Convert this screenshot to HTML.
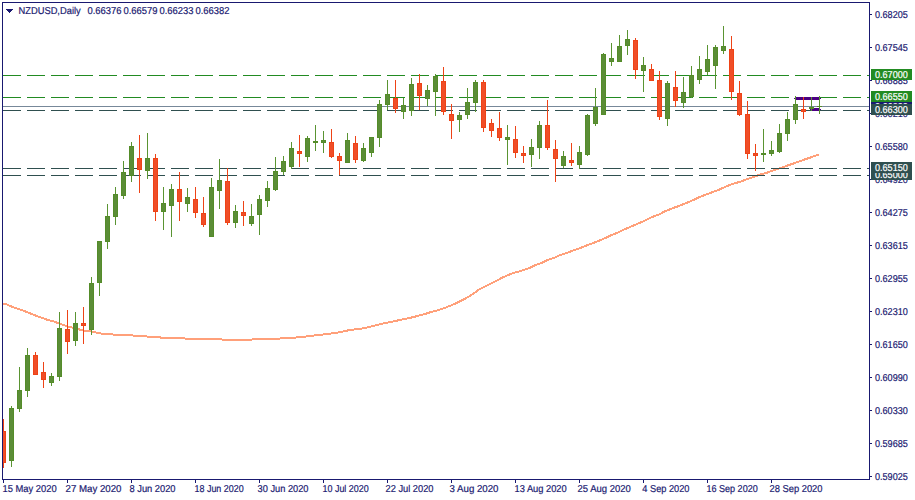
<!DOCTYPE html>
<html><head><meta charset="utf-8"><title>NZDUSD,Daily</title>
<style>
html,body{margin:0;padding:0;background:#fff;width:915px;height:500px;overflow:hidden}
svg{display:block}
.t{font-family:"Liberation Sans",sans-serif;font-size:10px;fill:#191970;stroke:#191970;stroke-width:0.2px;text-rendering:geometricPrecision}
</style></head><body>
<svg width="915" height="500" viewBox="0 0 915 500" shape-rendering="crispEdges">
<defs><clipPath id="cl"><rect x="3" y="3" width="866" height="476"/></clipPath></defs>
<g clip-path="url(#cl)">
<polyline fill="none" stroke="#ffa07a" stroke-width="2" stroke-linejoin="round" points="3,303.90 6,304.00 9,305.50 12,306.70 18,308.80 24,310.90 30,313.30 36,315.70 42,317.80 48,320.10 54,321.60 58.2,323.10 63,324.90 69,326.70 78,328.90 81,330.00 87,330.90 93,331.70 98,333.00 103.5,333.90 119.6,334.90 139.5,335.80 151.3,336.90 163.3,337.70 195.5,338.90 239.7,339.90 272,338.90 291.6,337.90 303.3,336.90 311.5,335.80 319.4,335.00 327.3,334.00 335.5,332.90 341.5,331.90 345.4,330.90 351.4,329.80 359.3,328.90 365.3,327.90 369.4,326.90 373.5,325.90 377.6,324.90 381.4,323.80 390.9,321.90 401.9,319.60 412.8,317.20 423.7,314.40 430,312.30 436,310.80 442,309.00 448,306.60 454,304.20 460,301.20 466,298.20 472,294.60 478,290.20 484,286.90 490,284.10 496,281.10 502,277.70 508,275.10 514,272.80 520,271.30 524,269.90 530,267.80 536,264.80 542,262.70 548,259.90 554,257.90 560,255.10 566,253.30 572,251.00 576,249.50 582,247.30 588,244.80 594,242.70 600,240.30 606,237.70 612,234.90 618,232.50 623.2,229.90 630.4,226.80 637.6,223.80 644.8,220.70 652,217.10 659.2,214.40 664,211.70 671.2,208.80 678.4,206.10 685.6,203.40 692.8,200.30 700,196.90 707.2,194.00 712,192.40 719.2,189.60 726.4,186.30 733.6,183.60 740.8,181.60 748,178.80 755.2,176.40 760,174.60 767.2,172.60 774.4,170.10 781.6,167.60 788.8,165.10 796,162.60 803.2,160.00 810.4,157.50 817.6,155.00 819,154.60"/>
<path d="M3 75.5H21M27 75.5H45M51 75.5H69M75 75.5H93M99 75.5H117M123 75.5H141M147 75.5H165M171 75.5H189M195 75.5H213M219 75.5H237M243 75.5H261M267 75.5H285M291 75.5H309M315 75.5H333M339 75.5H357M363 75.5H381M387 75.5H405M411 75.5H429M435 75.5H453M459 75.5H477M483 75.5H501M507 75.5H525M531 75.5H549M555 75.5H573M579 75.5H597M603 75.5H621M627 75.5H645M651 75.5H669M675 75.5H693M699 75.5H717M723 75.5H741M747 75.5H765M771 75.5H789M795 75.5H813M819 75.5H837M843 75.5H861M867 75.5H869" stroke="#228b22" stroke-width="1" fill="none"/>
<path d="M3 97.5H21M27 97.5H45M51 97.5H69M75 97.5H93M99 97.5H117M123 97.5H141M147 97.5H165M171 97.5H189M195 97.5H213M219 97.5H237M243 97.5H261M267 97.5H285M291 97.5H309M315 97.5H333M339 97.5H357M363 97.5H381M387 97.5H405M411 97.5H429M435 97.5H453M459 97.5H477M483 97.5H501M507 97.5H525M531 97.5H549M555 97.5H573M579 97.5H597M603 97.5H621M627 97.5H645M651 97.5H669M675 97.5H693M699 97.5H717M723 97.5H741M747 97.5H765M771 97.5H789M795 97.5H813M819 97.5H837M843 97.5H861M867 97.5H869" stroke="#228b22" stroke-width="1" fill="none"/>
<path d="M3 110.5H21M27 110.5H45M51 110.5H69M75 110.5H93M99 110.5H117M123 110.5H141M147 110.5H165M171 110.5H189M195 110.5H213M219 110.5H237M243 110.5H261M267 110.5H285M291 110.5H309M315 110.5H333M339 110.5H357M363 110.5H381M387 110.5H405M411 110.5H429M435 110.5H453M459 110.5H477M483 110.5H501M507 110.5H525M531 110.5H549M555 110.5H573M579 110.5H597M603 110.5H621M627 110.5H645M651 110.5H669M675 110.5H693M699 110.5H717M723 110.5H741M747 110.5H765M771 110.5H789M795 110.5H813M819 110.5H837M843 110.5H861M867 110.5H869" stroke="#2f4f4f" stroke-width="1" fill="none"/>
<path d="M3 168.5H21M27 168.5H45M51 168.5H69M75 168.5H93M99 168.5H117M123 168.5H141M147 168.5H165M171 168.5H189M195 168.5H213M219 168.5H237M243 168.5H261M267 168.5H285M291 168.5H309M315 168.5H333M339 168.5H357M363 168.5H381M387 168.5H405M411 168.5H429M435 168.5H453M459 168.5H477M483 168.5H501M507 168.5H525M531 168.5H549M555 168.5H573M579 168.5H597M603 168.5H621M627 168.5H645M651 168.5H669M675 168.5H693M699 168.5H717M723 168.5H741M747 168.5H765M771 168.5H789M795 168.5H813M819 168.5H837M843 168.5H861M867 168.5H869" stroke="#2f4f4f" stroke-width="1" fill="none"/>
<path d="M3 175.5H21M27 175.5H45M51 175.5H69M75 175.5H93M99 175.5H117M123 175.5H141M147 175.5H165M171 175.5H189M195 175.5H213M219 175.5H237M243 175.5H261M267 175.5H285M291 175.5H309M315 175.5H333M339 175.5H357M363 175.5H381M387 175.5H405M411 175.5H429M435 175.5H453M459 175.5H477M483 175.5H501M507 175.5H525M531 175.5H549M555 175.5H573M579 175.5H597M603 175.5H621M627 175.5H645M651 175.5H669M675 175.5H693M699 175.5H717M723 175.5H741M747 175.5H765M771 175.5H789M795 175.5H813M819 175.5H837M843 175.5H861M867 175.5H869" stroke="#2f4f4f" stroke-width="1" fill="none"/>
<rect x="3" y="106" width="866" height="1" fill="#778899"/>
<rect x="795" y="97" width="25" height="3" fill="#4b0082"/>
<rect x="794" y="98" width="1" height="1" fill="#4b0082"/>
<rect x="820" y="98" width="1" height="1" fill="#4b0082"/>
<rect x="811" y="108" width="9" height="3" fill="#4b0082"/>
<rect x="810" y="109" width="1" height="1" fill="#4b0082"/>
<rect x="820" y="109" width="1" height="1" fill="#4b0082"/>
<rect x="3" y="419" width="1" height="49" fill="#ee4316"/>
<rect x="1" y="431" width="5" height="32" fill="#ee4316"/>
<rect x="2" y="432" width="3" height="30" fill="#f04e28"/>
<rect x="11" y="406" width="1" height="61" fill="#5a9432"/>
<rect x="9" y="408" width="5" height="53" fill="#548c29"/>
<rect x="10" y="409" width="3" height="51" fill="#5b8d37"/>
<rect x="19" y="367" width="1" height="45" fill="#5a9432"/>
<rect x="17" y="390" width="5" height="19" fill="#548c29"/>
<rect x="18" y="391" width="3" height="17" fill="#5b8d37"/>
<rect x="27" y="348" width="1" height="49" fill="#5a9432"/>
<rect x="25" y="355" width="5" height="36" fill="#548c29"/>
<rect x="26" y="356" width="3" height="34" fill="#5b8d37"/>
<rect x="35" y="352" width="1" height="23" fill="#ee4316"/>
<rect x="33" y="355" width="5" height="20" fill="#ee4316"/>
<rect x="34" y="356" width="3" height="18" fill="#f04e28"/>
<rect x="43" y="362" width="1" height="26" fill="#ee4316"/>
<rect x="41" y="372" width="5" height="8" fill="#ee4316"/>
<rect x="42" y="373" width="3" height="6" fill="#f04e28"/>
<rect x="51" y="373" width="1" height="13" fill="#5a9432"/>
<rect x="49" y="376" width="5" height="7" fill="#548c29"/>
<rect x="50" y="377" width="3" height="5" fill="#5b8d37"/>
<rect x="59" y="312" width="1" height="69" fill="#5a9432"/>
<rect x="57" y="328" width="5" height="49" fill="#548c29"/>
<rect x="58" y="329" width="3" height="47" fill="#5b8d37"/>
<rect x="67" y="310" width="1" height="44" fill="#ee4316"/>
<rect x="65" y="329" width="5" height="13" fill="#ee4316"/>
<rect x="66" y="330" width="3" height="11" fill="#f04e28"/>
<rect x="75" y="312" width="1" height="34" fill="#5a9432"/>
<rect x="73" y="323" width="5" height="18" fill="#548c29"/>
<rect x="74" y="324" width="3" height="16" fill="#5b8d37"/>
<rect x="83" y="307" width="1" height="37" fill="#ee4316"/>
<rect x="81" y="323" width="5" height="3" fill="#ee4316"/>
<rect x="82" y="324" width="3" height="1" fill="#f04e28"/>
<rect x="91" y="277" width="1" height="58" fill="#5a9432"/>
<rect x="89" y="283" width="5" height="47" fill="#548c29"/>
<rect x="90" y="284" width="3" height="45" fill="#5b8d37"/>
<rect x="99" y="241" width="1" height="55" fill="#5a9432"/>
<rect x="97" y="241" width="5" height="42" fill="#548c29"/>
<rect x="98" y="242" width="3" height="40" fill="#5b8d37"/>
<rect x="107" y="204" width="1" height="45" fill="#5a9432"/>
<rect x="105" y="216" width="5" height="26" fill="#548c29"/>
<rect x="106" y="217" width="3" height="24" fill="#5b8d37"/>
<rect x="115" y="187" width="1" height="38" fill="#5a9432"/>
<rect x="113" y="194" width="5" height="23" fill="#548c29"/>
<rect x="114" y="195" width="3" height="21" fill="#5b8d37"/>
<rect x="123" y="161" width="1" height="38" fill="#5a9432"/>
<rect x="121" y="172" width="5" height="24" fill="#548c29"/>
<rect x="122" y="173" width="3" height="22" fill="#5b8d37"/>
<rect x="131" y="142" width="1" height="40" fill="#5a9432"/>
<rect x="129" y="146" width="5" height="30" fill="#548c29"/>
<rect x="130" y="147" width="3" height="28" fill="#5b8d37"/>
<rect x="139" y="135" width="1" height="58" fill="#ee4316"/>
<rect x="137" y="158" width="5" height="12" fill="#ee4316"/>
<rect x="138" y="159" width="3" height="10" fill="#f04e28"/>
<rect x="147" y="133" width="1" height="46" fill="#5a9432"/>
<rect x="145" y="158" width="5" height="13" fill="#548c29"/>
<rect x="146" y="159" width="3" height="11" fill="#5b8d37"/>
<rect x="155" y="154" width="1" height="67" fill="#ee4316"/>
<rect x="153" y="158" width="5" height="54" fill="#ee4316"/>
<rect x="154" y="159" width="3" height="52" fill="#f04e28"/>
<rect x="163" y="187" width="1" height="43" fill="#5a9432"/>
<rect x="161" y="203" width="5" height="9" fill="#548c29"/>
<rect x="162" y="204" width="3" height="7" fill="#5b8d37"/>
<rect x="171" y="184" width="1" height="53" fill="#5a9432"/>
<rect x="169" y="189" width="5" height="17" fill="#548c29"/>
<rect x="170" y="190" width="3" height="15" fill="#5b8d37"/>
<rect x="179" y="172" width="1" height="49" fill="#ee4316"/>
<rect x="177" y="189" width="5" height="13" fill="#ee4316"/>
<rect x="178" y="190" width="3" height="11" fill="#f04e28"/>
<rect x="187" y="188" width="1" height="24" fill="#5a9432"/>
<rect x="185" y="197" width="5" height="7" fill="#548c29"/>
<rect x="186" y="198" width="3" height="5" fill="#5b8d37"/>
<rect x="195" y="187" width="1" height="31" fill="#ee4316"/>
<rect x="193" y="199" width="5" height="14" fill="#ee4316"/>
<rect x="194" y="200" width="3" height="12" fill="#f04e28"/>
<rect x="203" y="197" width="1" height="30" fill="#ee4316"/>
<rect x="201" y="213" width="5" height="12" fill="#ee4316"/>
<rect x="202" y="214" width="3" height="10" fill="#f04e28"/>
<rect x="211" y="178" width="1" height="59" fill="#5a9432"/>
<rect x="209" y="187" width="5" height="50" fill="#548c29"/>
<rect x="210" y="188" width="3" height="48" fill="#5b8d37"/>
<rect x="219" y="159" width="1" height="50" fill="#5a9432"/>
<rect x="217" y="180" width="5" height="11" fill="#548c29"/>
<rect x="218" y="181" width="3" height="9" fill="#5b8d37"/>
<rect x="227" y="168" width="1" height="57" fill="#ee4316"/>
<rect x="225" y="181" width="5" height="42" fill="#ee4316"/>
<rect x="226" y="182" width="3" height="40" fill="#f04e28"/>
<rect x="235" y="205" width="1" height="23" fill="#5a9432"/>
<rect x="233" y="211" width="5" height="12" fill="#548c29"/>
<rect x="234" y="212" width="3" height="10" fill="#5b8d37"/>
<rect x="243" y="201" width="1" height="25" fill="#ee4316"/>
<rect x="241" y="212" width="5" height="4" fill="#ee4316"/>
<rect x="242" y="213" width="3" height="2" fill="#f04e28"/>
<rect x="251" y="204" width="1" height="22" fill="#5a9432"/>
<rect x="249" y="216" width="5" height="8" fill="#548c29"/>
<rect x="250" y="217" width="3" height="6" fill="#5b8d37"/>
<rect x="259" y="195" width="1" height="40" fill="#5a9432"/>
<rect x="257" y="199" width="5" height="16" fill="#548c29"/>
<rect x="258" y="200" width="3" height="14" fill="#5b8d37"/>
<rect x="267" y="181" width="1" height="26" fill="#5a9432"/>
<rect x="265" y="188" width="5" height="13" fill="#548c29"/>
<rect x="266" y="189" width="3" height="11" fill="#5b8d37"/>
<rect x="275" y="157" width="1" height="34" fill="#5a9432"/>
<rect x="273" y="171" width="5" height="19" fill="#548c29"/>
<rect x="274" y="172" width="3" height="17" fill="#5b8d37"/>
<rect x="283" y="156" width="1" height="19" fill="#5a9432"/>
<rect x="281" y="161" width="5" height="11" fill="#548c29"/>
<rect x="282" y="162" width="3" height="9" fill="#5b8d37"/>
<rect x="291" y="142" width="1" height="27" fill="#5a9432"/>
<rect x="289" y="148" width="5" height="19" fill="#548c29"/>
<rect x="290" y="149" width="3" height="17" fill="#5b8d37"/>
<rect x="299" y="135" width="1" height="32" fill="#ee4316"/>
<rect x="297" y="151" width="5" height="3" fill="#ee4316"/>
<rect x="298" y="152" width="3" height="1" fill="#f04e28"/>
<rect x="307" y="136" width="1" height="26" fill="#5a9432"/>
<rect x="305" y="138" width="5" height="19" fill="#548c29"/>
<rect x="306" y="139" width="3" height="17" fill="#5b8d37"/>
<rect x="315" y="125" width="1" height="26" fill="#5a9432"/>
<rect x="313" y="141" width="5" height="2" fill="#548c29"/>
<rect x="323" y="131" width="1" height="22" fill="#5a9432"/>
<rect x="321" y="140" width="5" height="3" fill="#548c29"/>
<rect x="322" y="141" width="3" height="1" fill="#5b8d37"/>
<rect x="331" y="129" width="1" height="29" fill="#ee4316"/>
<rect x="329" y="142" width="5" height="15" fill="#ee4316"/>
<rect x="330" y="143" width="3" height="13" fill="#f04e28"/>
<rect x="339" y="153" width="1" height="22" fill="#ee4316"/>
<rect x="337" y="156" width="5" height="5" fill="#ee4316"/>
<rect x="338" y="157" width="3" height="3" fill="#f04e28"/>
<rect x="347" y="133" width="1" height="30" fill="#5a9432"/>
<rect x="345" y="140" width="5" height="23" fill="#548c29"/>
<rect x="346" y="141" width="3" height="21" fill="#5b8d37"/>
<rect x="355" y="136" width="1" height="27" fill="#ee4316"/>
<rect x="353" y="143" width="5" height="17" fill="#ee4316"/>
<rect x="354" y="144" width="3" height="15" fill="#f04e28"/>
<rect x="363" y="143" width="1" height="19" fill="#5a9432"/>
<rect x="361" y="148" width="5" height="13" fill="#548c29"/>
<rect x="362" y="149" width="3" height="11" fill="#5b8d37"/>
<rect x="371" y="137" width="1" height="20" fill="#5a9432"/>
<rect x="369" y="137" width="5" height="16" fill="#548c29"/>
<rect x="370" y="138" width="3" height="14" fill="#5b8d37"/>
<rect x="379" y="100" width="1" height="47" fill="#5a9432"/>
<rect x="377" y="104" width="5" height="34" fill="#548c29"/>
<rect x="378" y="105" width="3" height="32" fill="#5b8d37"/>
<rect x="387" y="80" width="1" height="30" fill="#5a9432"/>
<rect x="385" y="94" width="5" height="11" fill="#548c29"/>
<rect x="386" y="95" width="3" height="9" fill="#5b8d37"/>
<rect x="395" y="80" width="1" height="33" fill="#ee4316"/>
<rect x="393" y="98" width="5" height="11" fill="#ee4316"/>
<rect x="394" y="99" width="3" height="9" fill="#f04e28"/>
<rect x="403" y="98" width="1" height="21" fill="#5a9432"/>
<rect x="401" y="105" width="5" height="7" fill="#548c29"/>
<rect x="402" y="106" width="3" height="5" fill="#5b8d37"/>
<rect x="411" y="78" width="1" height="38" fill="#5a9432"/>
<rect x="409" y="84" width="5" height="27" fill="#548c29"/>
<rect x="410" y="85" width="3" height="25" fill="#5b8d37"/>
<rect x="419" y="74" width="1" height="36" fill="#ee4316"/>
<rect x="417" y="83" width="5" height="13" fill="#ee4316"/>
<rect x="418" y="84" width="3" height="11" fill="#f04e28"/>
<rect x="427" y="85" width="1" height="21" fill="#5a9432"/>
<rect x="425" y="90" width="5" height="9" fill="#548c29"/>
<rect x="426" y="91" width="3" height="7" fill="#5b8d37"/>
<rect x="435" y="74" width="1" height="42" fill="#5a9432"/>
<rect x="433" y="76" width="5" height="16" fill="#548c29"/>
<rect x="434" y="77" width="3" height="14" fill="#5b8d37"/>
<rect x="443" y="67" width="1" height="48" fill="#ee4316"/>
<rect x="441" y="81" width="5" height="31" fill="#ee4316"/>
<rect x="442" y="82" width="3" height="29" fill="#f04e28"/>
<rect x="451" y="104" width="1" height="35" fill="#ee4316"/>
<rect x="449" y="114" width="5" height="7" fill="#ee4316"/>
<rect x="450" y="115" width="3" height="5" fill="#f04e28"/>
<rect x="459" y="112" width="1" height="20" fill="#5a9432"/>
<rect x="457" y="115" width="5" height="5" fill="#548c29"/>
<rect x="458" y="116" width="3" height="3" fill="#5b8d37"/>
<rect x="467" y="88" width="1" height="31" fill="#5a9432"/>
<rect x="465" y="102" width="5" height="13" fill="#548c29"/>
<rect x="466" y="103" width="3" height="11" fill="#5b8d37"/>
<rect x="475" y="80" width="1" height="32" fill="#5a9432"/>
<rect x="473" y="82" width="5" height="21" fill="#548c29"/>
<rect x="474" y="83" width="3" height="19" fill="#5b8d37"/>
<rect x="483" y="80" width="1" height="52" fill="#ee4316"/>
<rect x="481" y="82" width="5" height="46" fill="#ee4316"/>
<rect x="482" y="83" width="3" height="44" fill="#f04e28"/>
<rect x="491" y="119" width="1" height="18" fill="#ee4316"/>
<rect x="489" y="123" width="5" height="8" fill="#ee4316"/>
<rect x="490" y="124" width="3" height="6" fill="#f04e28"/>
<rect x="499" y="112" width="1" height="29" fill="#ee4316"/>
<rect x="497" y="128" width="5" height="10" fill="#ee4316"/>
<rect x="498" y="129" width="3" height="8" fill="#f04e28"/>
<rect x="507" y="125" width="1" height="40" fill="#5a9432"/>
<rect x="505" y="137" width="5" height="3" fill="#548c29"/>
<rect x="506" y="138" width="3" height="1" fill="#5b8d37"/>
<rect x="515" y="126" width="1" height="32" fill="#ee4316"/>
<rect x="513" y="139" width="5" height="14" fill="#ee4316"/>
<rect x="514" y="140" width="3" height="12" fill="#f04e28"/>
<rect x="523" y="146" width="1" height="17" fill="#ee4316"/>
<rect x="521" y="153" width="5" height="3" fill="#ee4316"/>
<rect x="522" y="154" width="3" height="1" fill="#f04e28"/>
<rect x="531" y="139" width="1" height="28" fill="#5a9432"/>
<rect x="529" y="147" width="5" height="8" fill="#548c29"/>
<rect x="530" y="148" width="3" height="6" fill="#5b8d37"/>
<rect x="539" y="121" width="1" height="38" fill="#5a9432"/>
<rect x="537" y="125" width="5" height="23" fill="#548c29"/>
<rect x="538" y="126" width="3" height="21" fill="#5b8d37"/>
<rect x="547" y="100" width="1" height="50" fill="#ee4316"/>
<rect x="545" y="125" width="5" height="23" fill="#ee4316"/>
<rect x="546" y="126" width="3" height="21" fill="#f04e28"/>
<rect x="555" y="140" width="1" height="42" fill="#ee4316"/>
<rect x="553" y="149" width="5" height="10" fill="#ee4316"/>
<rect x="554" y="150" width="3" height="8" fill="#f04e28"/>
<rect x="563" y="151" width="1" height="17" fill="#5a9432"/>
<rect x="561" y="156" width="5" height="10" fill="#548c29"/>
<rect x="562" y="157" width="3" height="8" fill="#5b8d37"/>
<rect x="571" y="143" width="1" height="23" fill="#ee4316"/>
<rect x="569" y="160" width="5" height="3" fill="#ee4316"/>
<rect x="570" y="161" width="3" height="1" fill="#f04e28"/>
<rect x="579" y="146" width="1" height="23" fill="#5a9432"/>
<rect x="577" y="152" width="5" height="13" fill="#548c29"/>
<rect x="578" y="153" width="3" height="11" fill="#5b8d37"/>
<rect x="587" y="114" width="1" height="42" fill="#5a9432"/>
<rect x="585" y="115" width="5" height="40" fill="#548c29"/>
<rect x="586" y="116" width="3" height="38" fill="#5b8d37"/>
<rect x="595" y="88" width="1" height="38" fill="#5a9432"/>
<rect x="593" y="107" width="5" height="17" fill="#548c29"/>
<rect x="594" y="108" width="3" height="15" fill="#5b8d37"/>
<rect x="603" y="53" width="1" height="62" fill="#5a9432"/>
<rect x="601" y="54" width="5" height="61" fill="#548c29"/>
<rect x="602" y="55" width="3" height="59" fill="#5b8d37"/>
<rect x="611" y="43" width="1" height="23" fill="#5a9432"/>
<rect x="609" y="58" width="5" height="4" fill="#548c29"/>
<rect x="610" y="59" width="3" height="2" fill="#5b8d37"/>
<rect x="619" y="35" width="1" height="27" fill="#5a9432"/>
<rect x="617" y="46" width="5" height="16" fill="#548c29"/>
<rect x="618" y="47" width="3" height="14" fill="#5b8d37"/>
<rect x="627" y="30" width="1" height="25" fill="#5a9432"/>
<rect x="625" y="39" width="5" height="7" fill="#548c29"/>
<rect x="626" y="40" width="3" height="5" fill="#5b8d37"/>
<rect x="635" y="38" width="1" height="41" fill="#ee4316"/>
<rect x="633" y="40" width="5" height="30" fill="#ee4316"/>
<rect x="634" y="41" width="3" height="28" fill="#f04e28"/>
<rect x="643" y="57" width="1" height="35" fill="#5a9432"/>
<rect x="641" y="65" width="5" height="6" fill="#548c29"/>
<rect x="642" y="66" width="3" height="4" fill="#5b8d37"/>
<rect x="651" y="64" width="1" height="17" fill="#ee4316"/>
<rect x="649" y="69" width="5" height="12" fill="#ee4316"/>
<rect x="650" y="70" width="3" height="10" fill="#f04e28"/>
<rect x="659" y="71" width="1" height="49" fill="#ee4316"/>
<rect x="657" y="80" width="5" height="37" fill="#ee4316"/>
<rect x="658" y="81" width="3" height="35" fill="#f04e28"/>
<rect x="667" y="81" width="1" height="45" fill="#5a9432"/>
<rect x="665" y="83" width="5" height="36" fill="#548c29"/>
<rect x="666" y="84" width="3" height="34" fill="#5b8d37"/>
<rect x="675" y="71" width="1" height="36" fill="#ee4316"/>
<rect x="673" y="87" width="5" height="14" fill="#ee4316"/>
<rect x="674" y="88" width="3" height="12" fill="#f04e28"/>
<rect x="683" y="77" width="1" height="31" fill="#5a9432"/>
<rect x="681" y="92" width="5" height="11" fill="#548c29"/>
<rect x="682" y="93" width="3" height="9" fill="#5b8d37"/>
<rect x="691" y="66" width="1" height="32" fill="#5a9432"/>
<rect x="689" y="75" width="5" height="22" fill="#548c29"/>
<rect x="690" y="76" width="3" height="20" fill="#5b8d37"/>
<rect x="699" y="56" width="1" height="28" fill="#5a9432"/>
<rect x="697" y="69" width="5" height="11" fill="#548c29"/>
<rect x="698" y="70" width="3" height="9" fill="#5b8d37"/>
<rect x="707" y="45" width="1" height="30" fill="#5a9432"/>
<rect x="705" y="59" width="5" height="13" fill="#548c29"/>
<rect x="706" y="60" width="3" height="11" fill="#5b8d37"/>
<rect x="715" y="45" width="1" height="44" fill="#5a9432"/>
<rect x="713" y="47" width="5" height="19" fill="#548c29"/>
<rect x="714" y="48" width="3" height="17" fill="#5b8d37"/>
<rect x="723" y="26" width="1" height="28" fill="#5a9432"/>
<rect x="721" y="46" width="5" height="5" fill="#548c29"/>
<rect x="722" y="47" width="3" height="3" fill="#5b8d37"/>
<rect x="731" y="36" width="1" height="64" fill="#ee4316"/>
<rect x="729" y="49" width="5" height="43" fill="#ee4316"/>
<rect x="730" y="50" width="3" height="41" fill="#f04e28"/>
<rect x="739" y="81" width="1" height="35" fill="#ee4316"/>
<rect x="737" y="93" width="5" height="22" fill="#ee4316"/>
<rect x="738" y="94" width="3" height="20" fill="#f04e28"/>
<rect x="747" y="101" width="1" height="58" fill="#ee4316"/>
<rect x="745" y="114" width="5" height="40" fill="#ee4316"/>
<rect x="746" y="115" width="3" height="38" fill="#f04e28"/>
<rect x="755" y="144" width="1" height="27" fill="#ee4316"/>
<rect x="753" y="153" width="5" height="3" fill="#ee4316"/>
<rect x="754" y="154" width="3" height="1" fill="#f04e28"/>
<rect x="763" y="129" width="1" height="33" fill="#5a9432"/>
<rect x="761" y="153" width="5" height="2" fill="#548c29"/>
<rect x="771" y="141" width="1" height="15" fill="#5a9432"/>
<rect x="769" y="150" width="5" height="4" fill="#548c29"/>
<rect x="770" y="151" width="3" height="2" fill="#5b8d37"/>
<rect x="779" y="124" width="1" height="29" fill="#5a9432"/>
<rect x="777" y="133" width="5" height="19" fill="#548c29"/>
<rect x="778" y="134" width="3" height="17" fill="#5b8d37"/>
<rect x="787" y="112" width="1" height="29" fill="#5a9432"/>
<rect x="785" y="119" width="5" height="15" fill="#548c29"/>
<rect x="786" y="120" width="3" height="13" fill="#5b8d37"/>
<rect x="795" y="96" width="1" height="28" fill="#5a9432"/>
<rect x="793" y="104" width="5" height="16" fill="#548c29"/>
<rect x="794" y="105" width="3" height="14" fill="#5b8d37"/>
<rect x="803" y="97" width="1" height="22" fill="#ee4316"/>
<rect x="801" y="109" width="5" height="3" fill="#ee4316"/>
<rect x="802" y="110" width="3" height="1" fill="#f04e28"/>
<rect x="811" y="97" width="1" height="14" fill="#5a9432"/>
<rect x="809" y="107" width="5" height="2" fill="#548c29"/>
<rect x="819" y="96" width="1" height="18" fill="#5a9432"/>
<rect x="817" y="106" width="5" height="1" fill="#548c29"/>
</g>
<rect x="2" y="2" width="868" height="1" fill="#191970"/>
<rect x="2" y="2" width="1" height="478" fill="#191970"/>
<rect x="2" y="479" width="868" height="1" fill="#191970"/>
<rect x="869" y="2" width="1" height="478" fill="#191970"/>
<rect x="870" y="14" width="2" height="1" fill="#191970"/>
<text x="875.00" y="18" textLength="32.80" lengthAdjust="spacingAndGlyphs" class="t">0.68205</text>
<rect x="870" y="47" width="2" height="1" fill="#191970"/>
<text x="875.00" y="51" textLength="32.80" lengthAdjust="spacingAndGlyphs" class="t">0.67545</text>
<rect x="870" y="80" width="2" height="1" fill="#191970"/>
<text x="875.00" y="84" textLength="32.80" lengthAdjust="spacingAndGlyphs" class="t">0.66885</text>
<rect x="870" y="113" width="2" height="1" fill="#191970"/>
<text x="875.00" y="117" textLength="32.80" lengthAdjust="spacingAndGlyphs" class="t">0.66210</text>
<rect x="870" y="146" width="2" height="1" fill="#191970"/>
<text x="875.00" y="150" textLength="32.80" lengthAdjust="spacingAndGlyphs" class="t">0.65580</text>
<rect x="870" y="179" width="2" height="1" fill="#191970"/>
<text x="875.00" y="183" textLength="32.80" lengthAdjust="spacingAndGlyphs" class="t">0.64920</text>
<rect x="870" y="212" width="2" height="1" fill="#191970"/>
<text x="875.00" y="216" textLength="32.80" lengthAdjust="spacingAndGlyphs" class="t">0.64275</text>
<rect x="870" y="245" width="2" height="1" fill="#191970"/>
<text x="875.00" y="249" textLength="32.80" lengthAdjust="spacingAndGlyphs" class="t">0.63615</text>
<rect x="870" y="278" width="2" height="1" fill="#191970"/>
<text x="875.00" y="282" textLength="32.80" lengthAdjust="spacingAndGlyphs" class="t">0.62955</text>
<rect x="870" y="311" width="2" height="1" fill="#191970"/>
<text x="875.00" y="315" textLength="32.80" lengthAdjust="spacingAndGlyphs" class="t">0.62310</text>
<rect x="870" y="344" width="2" height="1" fill="#191970"/>
<text x="875.00" y="348" textLength="32.80" lengthAdjust="spacingAndGlyphs" class="t">0.61650</text>
<rect x="870" y="377" width="2" height="1" fill="#191970"/>
<text x="875.00" y="381" textLength="32.80" lengthAdjust="spacingAndGlyphs" class="t">0.60990</text>
<rect x="870" y="410" width="2" height="1" fill="#191970"/>
<text x="875.00" y="414" textLength="32.80" lengthAdjust="spacingAndGlyphs" class="t">0.60330</text>
<rect x="870" y="443" width="2" height="1" fill="#191970"/>
<text x="875.00" y="447" textLength="32.80" lengthAdjust="spacingAndGlyphs" class="t">0.59685</text>
<rect x="870" y="476" width="2" height="1" fill="#191970"/>
<text x="875.00" y="480" textLength="32.80" lengthAdjust="spacingAndGlyphs" class="t">0.59025</text>
<rect x="3" y="480" width="1" height="3" fill="#191970"/>
<text x="2.50" y="492" textLength="54.20" lengthAdjust="spacingAndGlyphs" class="t">15 May 2020</text>
<rect x="67" y="480" width="1" height="3" fill="#191970"/>
<text x="65.50" y="492" textLength="56.00" lengthAdjust="spacingAndGlyphs" class="t">27 May 2020</text>
<rect x="131" y="480" width="1" height="3" fill="#191970"/>
<text x="129.50" y="492" textLength="46.00" lengthAdjust="spacingAndGlyphs" class="t">8 Jun 2020</text>
<rect x="195" y="480" width="1" height="3" fill="#191970"/>
<text x="194.50" y="492" textLength="49.20" lengthAdjust="spacingAndGlyphs" class="t">18 Jun 2020</text>
<rect x="259" y="480" width="1" height="3" fill="#191970"/>
<text x="257.50" y="492" textLength="51.00" lengthAdjust="spacingAndGlyphs" class="t">30 Jun 2020</text>
<rect x="323" y="480" width="1" height="3" fill="#191970"/>
<text x="322.50" y="492" textLength="46.20" lengthAdjust="spacingAndGlyphs" class="t">10 Jul 2020</text>
<rect x="387" y="480" width="1" height="3" fill="#191970"/>
<text x="385.50" y="492" textLength="48.00" lengthAdjust="spacingAndGlyphs" class="t">22 Jul 2020</text>
<rect x="451" y="480" width="1" height="3" fill="#191970"/>
<text x="449.50" y="492" textLength="49.00" lengthAdjust="spacingAndGlyphs" class="t">3 Aug 2020</text>
<rect x="515" y="480" width="1" height="3" fill="#191970"/>
<text x="514.50" y="492" textLength="52.20" lengthAdjust="spacingAndGlyphs" class="t">13 Aug 2020</text>
<rect x="579" y="480" width="1" height="3" fill="#191970"/>
<text x="577.50" y="492" textLength="53.20" lengthAdjust="spacingAndGlyphs" class="t">25 Aug 2020</text>
<rect x="643" y="480" width="1" height="3" fill="#191970"/>
<text x="642.30" y="492" textLength="47.20" lengthAdjust="spacingAndGlyphs" class="t">4 Sep 2020</text>
<rect x="707" y="480" width="1" height="3" fill="#191970"/>
<text x="706.50" y="492" textLength="51.20" lengthAdjust="spacingAndGlyphs" class="t">16 Sep 2020</text>
<rect x="771" y="480" width="1" height="3" fill="#191970"/>
<text x="769.50" y="492" textLength="53.00" lengthAdjust="spacingAndGlyphs" class="t">28 Sep 2020</text>
<rect x="6" y="9" width="7" height="1" fill="#191970"/>
<rect x="7" y="10" width="5" height="1" fill="#191970"/>
<rect x="8" y="11" width="3" height="1" fill="#191970"/>
<rect x="9" y="12" width="1" height="1" fill="#191970"/>
<text x="18.50" y="14" textLength="62.20" lengthAdjust="spacingAndGlyphs" class="t">NZDUSD,Daily</text>
<text x="87.50" y="14" textLength="34.00" lengthAdjust="spacingAndGlyphs" class="t">0.66376</text>
<text x="123.50" y="14" textLength="34.00" lengthAdjust="spacingAndGlyphs" class="t">0.66579</text>
<text x="159.50" y="14" textLength="34.00" lengthAdjust="spacingAndGlyphs" class="t">0.66233</text>
<text x="195.50" y="14" textLength="34.00" lengthAdjust="spacingAndGlyphs" class="t">0.66382</text>
<rect x="871" y="100" width="41" height="11" fill="#191970"/>
<text x="875.00" y="110" textLength="32.80" lengthAdjust="spacingAndGlyphs" class="t" style="fill:#ffffff;stroke:#ffffff">0.66382</text>
<rect x="871" y="69" width="41" height="11" fill="#228b22"/>
<text x="875.00" y="78" textLength="32.80" lengthAdjust="spacingAndGlyphs" class="t" style="fill:#ffffff;stroke:#ffffff">0.67000</text>
<rect x="871" y="91" width="41" height="11" fill="#228b22"/>
<text x="875.00" y="100" textLength="32.80" lengthAdjust="spacingAndGlyphs" class="t" style="fill:#ffffff;stroke:#ffffff">0.66550</text>
<rect x="871" y="104" width="41" height="11" fill="#2f4f4f"/>
<text x="875.00" y="113" textLength="32.80" lengthAdjust="spacingAndGlyphs" class="t" style="fill:#ffffff;stroke:#ffffff">0.66300</text>
<rect x="871" y="169" width="41" height="11" fill="#2f4f4f"/>
<text x="875.00" y="178" textLength="32.80" lengthAdjust="spacingAndGlyphs" class="t" style="fill:#ffffff;stroke:#ffffff">0.65000</text>
<rect x="871" y="162" width="41" height="11" fill="#2f4f4f"/>
<text x="875.00" y="171" textLength="32.80" lengthAdjust="spacingAndGlyphs" class="t" style="fill:#ffffff;stroke:#ffffff">0.65150</text>
</svg>
</body></html>
